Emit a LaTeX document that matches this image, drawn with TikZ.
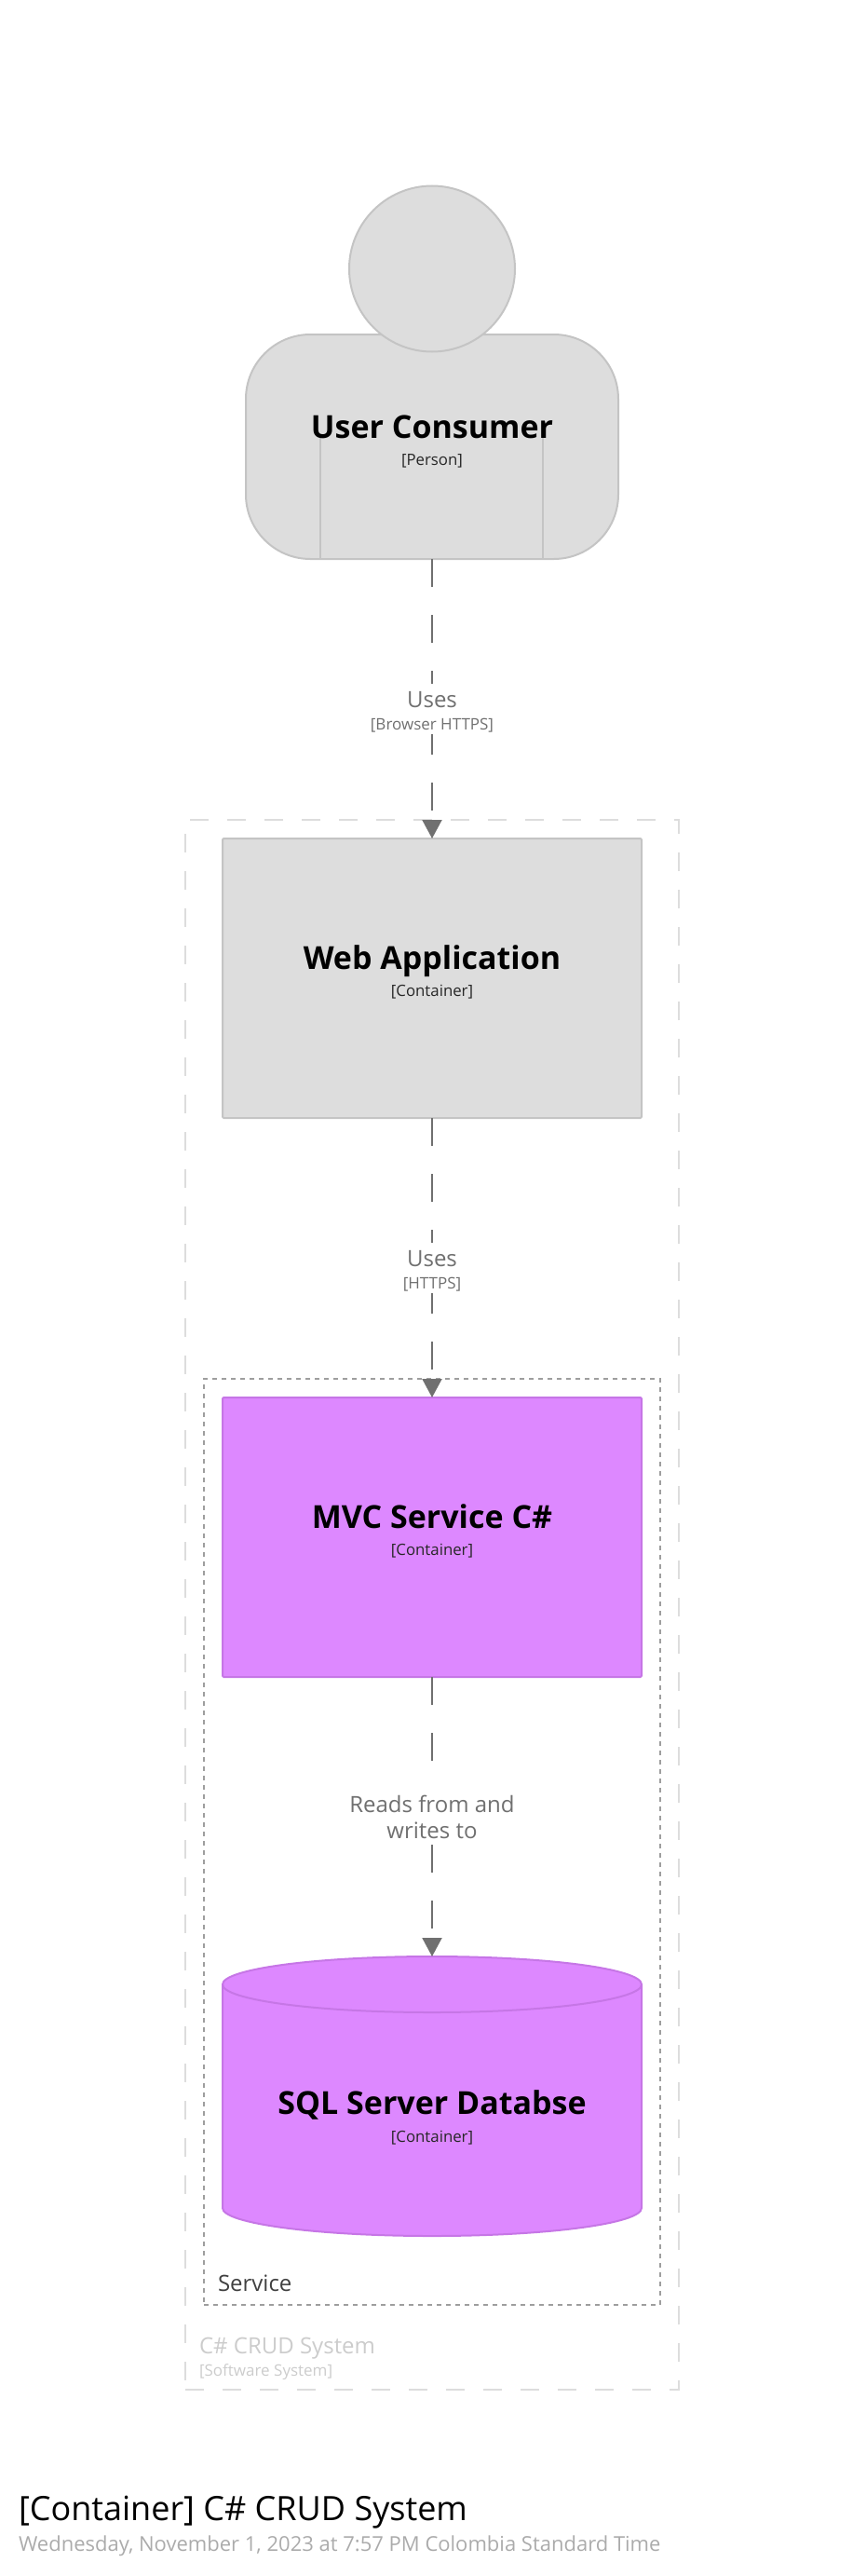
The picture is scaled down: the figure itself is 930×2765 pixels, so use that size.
\documentclass[tikz,border=0pt]{standalone}
\usepackage{fontspec}
\setmainfont{Open Sans}
\usetikzlibrary{arrows.meta,positioning,calc}
\definecolor{boxgray}{HTML}{DDDDDD}
\definecolor{boxgrayline}{HTML}{C4C4C4}
\definecolor{boxpurple}{HTML}{DD88FF}
\definecolor{boxpurpleline}{HTML}{C676E6}
\definecolor{relgray}{HTML}{707070}
\definecolor{svcgray}{HTML}{9E9E9E}
\begin{document}
\begin{tikzpicture}[
  x=0.75pt, y=-0.75pt,
  node distance=225pt,
  every node/.style={outer sep=0pt},
  graybox/.style={draw=boxgrayline, fill=boxgray, line width=1.5pt, rounded corners=1pt},
  purplebox/.style={draw=boxpurpleline, fill=boxpurple, line width=1.5pt, rounded corners=1pt},
  container/.style={minimum width=337.5pt, minimum height=225pt},
  sysbound/.style={draw=boxgray, line width=1.5pt, dash pattern=on 15pt off 15pt, inner sep=0pt,
                   minimum width=397.5pt, minimum height=1263.75pt},
  svcbound/.style={draw=svcgray, line width=1.5pt, dash pattern=on 3.75pt off 3.75pt, inner sep=0pt,
                   minimum width=367.5pt, minimum height=745.5pt},
  namelabel/.style={anchor=base, inner sep=0pt, font=\fontsize{25.5}{30}\selectfont\bfseries},
  typelabel/.style={anchor=base, inner sep=0pt, text=black!85, font=\fontsize{12.6}{16}\selectfont},
  rellabel/.style={anchor=base, fill=white, inner ysep=0pt, inner xsep=2pt, text=relgray,
                   text height=18.75pt, text depth=4.5pt, font=\fontsize{18}{22}\selectfont},
  techlabel/.style={anchor=base, fill=white, inner ysep=0pt, inner xsep=2pt, text=relgray,
                    text height=14.25pt, text depth=3.75pt, font=\fontsize{12.75}{16}\selectfont},
  arr/.style={-{Triangle[length=15pt,width=15.75pt]}, draw=relgray, line width=1.5pt,
              dash pattern=on 22.5pt off 22.5pt}
]
  % boundaries
  \node[sysbound] (crud) at (464,1722.5) {};
  \node[svcbound] (svc) at (464,1977) {};
  % person
  \node[graybox, minimum width=300pt, minimum height=180.75pt, rounded corners=52pt] (body) at (464,479.5) {};
  \coordinate (armL) at ($(body.south west)+(80,0)$);
  \coordinate (armR) at ($(body.south east)+(-81,0)$);
  \draw[boxgrayline, line width=1.5pt] (armL) -- ++(0,-130);
  \draw[boxgrayline, line width=1.5pt] (armR) -- ++(0,-130);
  \node[graybox, circle, minimum size=133.5pt, inner sep=0pt, rounded corners=0pt] (head) at (464,288.5) {};
  % containers
  \node[graybox, container] (webapp) at (464,1050) {};
  \node[purplebox, container, below=of webapp] (mvc) {};
  \node[container, below=of mvc] (sqldb) {};
  \draw[purplebox, rounded corners=0pt] (239,2130) arc[start angle=180, end angle=0, x radius=168.75pt, y radius=22.5pt]
    -- (689,2370) arc[start angle=0, end angle=-180, x radius=168.75pt, y radius=22.5pt] -- cycle;
  \draw[boxpurpleline, line width=1.5pt] (239,2130) arc[start angle=180, end angle=360, x radius=168.75pt, y radius=22.5pt];
  % relationships
  \draw[arr] (body.south) -- (webapp.north);
  \draw[arr] (webapp.south) -- (mvc.north);
  \draw[arr] (mvc.south) -- (sqldb.north);
  \node[rellabel] (uses1) at (464,759) {Uses};
  \node[techlabel] (tech1) at (464,783) {[Browser HTTPS]};
  \node[rellabel] (uses2) at (464,1359) {Uses};
  \node[techlabel] (tech2) at (464,1383) {[HTTPS]};
  \node[rellabel] (reads) at (464,1945) {Reads from and};
  \node[rellabel] (writes) at (464,1973) {writes to};
  % element texts
  \node[namelabel] (usrname) at (464,470) {User Consumer};
  \node[typelabel] (usrtype) at (464,499) {[Person]};
  \node[namelabel] (webname) at ($(webapp.center)+(0,-10)$) {Web Application};
  \node[typelabel] (webtype) at ($(webapp.center)+(0,19)$) {[Container]};
  \node[namelabel] (mvcname) at ($(mvc.center)+(0,-10)$) {MVC Service C\#};
  \node[typelabel] (mvctype) at ($(mvc.center)+(0,19)$) {[Container]};
  \node[namelabel] (sqlname) at ($(sqldb.center)+(0,19)$) {SQL Server Databse};
  \node[typelabel] (sqltype) at ($(sqldb.center)+(0,49)$) {[Container]};
  % boundary texts
  \node[anchor=base west, inner sep=0pt, text=black!75, font=\fontsize{18}{22}\selectfont] (svcname) at (234,2459) {Service};
  \node[anchor=base west, inner sep=0pt, text=black!20, font=\fontsize{18}{22}\selectfont] (crudname) at (214,2526) {C\# CRUD System};
  \node[anchor=base west, inner sep=0pt, text=black!20, font=\fontsize{12.75}{16}\selectfont] (crudtype) at (214,2550) {[Software System]};
  % title
  \node[anchor=base west, inner sep=0pt, font=\fontsize{27}{32}\selectfont] (title) at (20,2705) {[Container] C\# CRUD System};
  \node[anchor=base west, inner sep=0pt, text=black!33, font=\fontsize{16.5}{20}\selectfont] (stamp) at (20,2738) {Wednesday, November 1, 2023 at 7:57 PM Colombia Standard Time};
  \useasboundingbox (0,0) rectangle (930,2765);
\end{tikzpicture}
\end{document}
